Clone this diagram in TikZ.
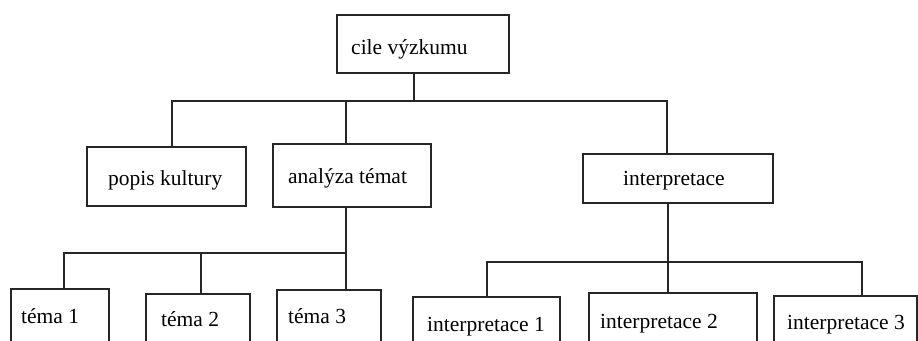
\documentclass[tikz,border=0pt]{standalone}
\usepackage{fontspec}
\setmainfont{Liberation Serif}
\begin{document}
\begin{tikzpicture}[x=1pt,y=-1pt,
  box/.style={draw=black!85, line width=1.5pt, rectangle, inner sep=0pt, outer sep=0pt},
  lbl/.style={anchor=base west, inner sep=0pt, font=\fontsize{21.5}{24}\selectfont},
  conn/.style={draw=black!85, line width=1.5pt}]
\useasboundingbox (0,0) rectangle (918,340);
\fill[white] (0,0) rectangle (918,340);
\clip (0,0) rectangle (918,340);
% boxes
\node[box, minimum width=172pt, minimum height=58pt] (top) at (423,44) {};
\node[box, minimum width=159pt, minimum height=59pt] (popis) at (166.5,176.5) {};
\node[box, minimum width=158pt, minimum height=63pt] (analyza) at (352,175.5) {};
\node[box, minimum width=190pt, minimum height=49pt] (interp) at (678,178.5) {};
\node[box, minimum width=98pt, minimum height=71pt] (tema1) at (60,324.5) {};
\node[box, minimum width=104pt, minimum height=66pt] (tema2) at (198,327) {};
\node[box, minimum width=104pt, minimum height=70pt] (tema3) at (329,325) {};
\node[box, minimum width=147pt, minimum height=63pt] (i1) at (486.5,328.5) {};
\node[box, minimum width=168pt, minimum height=67pt] (i2) at (673,326.5) {};
\node[box, minimum width=143pt, minimum height=64pt] (i3) at (845.5,328) {};
% labels
\node[lbl] (ttop) at (351,54) {cile výzkumu};
\node[lbl] (tpopis) at (108,185) {popis kultury};
\node[lbl] (tanalyza) at (288,183) {analýza témat};
\node[lbl] (tinterp) at (623,185) {interpretace};
\node[lbl] (ttema1) at (21,323) {téma 1};
\node[lbl] (ttema2) at (161,326) {téma 2};
\node[lbl] (ttema3) at (288,323) {téma 3};
\node[lbl] (ti1) at (427,331) {interpretace 1};
\node[lbl] (ti2) at (600,328) {interpretace 2};
\node[lbl] (ti3) at (787,329) {interpretace 3};
% connectors level 1
\coordinate (b1) at (414,101);
\coordinate (b1L) at (172,101);
\coordinate (b1M) at (346,101);
\coordinate (b1R) at (667,101);
\draw[conn] (b1 |- top.south) -- (b1);
\draw[conn] (b1L |- popis.north) -- (b1L) -- (b1R) -- (b1R |- interp.north);
\draw[conn] (b1M) -- (b1M |- analyza.north);
% connectors level 2 (themes)
\coordinate (b2) at (346,253);
\coordinate (b2L) at (64,253);
\coordinate (b2M) at (201,253);
\draw[conn] (b2 |- analyza.south) -- (b2 |- tema3.north);
\draw[conn] (b2L |- tema1.north) -- (b2L) -- (b2);
\draw[conn] (b2M) -- (b2M |- tema2.north);
% connectors level 2 (interpretations)
\coordinate (b3) at (668,262);
\coordinate (b3L) at (487,262);
\coordinate (b3R) at (862,262);
\draw[conn] (b3 |- interp.south) -- (b3 |- i2.north);
\draw[conn] (b3L |- i1.north) -- (b3L) -- (b3R) -- (b3R |- i3.north);
\end{tikzpicture}
\end{document}
